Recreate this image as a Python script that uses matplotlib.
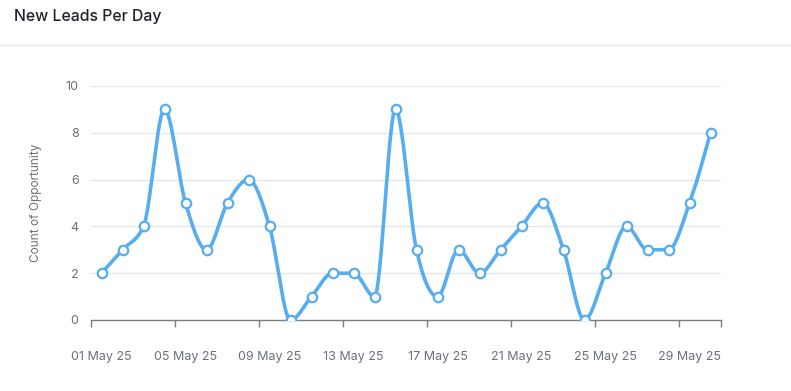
import numpy as np
import matplotlib
matplotlib.use("Agg")
import matplotlib.pyplot as plt
from matplotlib.lines import Line2D

dates = ["01 May 25", "02 May 25", "03 May 25", "04 May 25", "05 May 25", "06 May 25",
         "07 May 25", "08 May 25", "09 May 25", "10 May 25", "11 May 25", "12 May 25",
         "13 May 25", "14 May 25", "15 May 25", "16 May 25", "17 May 25", "18 May 25",
         "19 May 25", "20 May 25", "21 May 25", "22 May 25", "23 May 25", "24 May 25",
         "25 May 25", "26 May 25", "27 May 25", "28 May 25", "29 May 25", "30 May 25"]
counts = [2, 3, 4, 9, 5, 3, 5, 6, 4, 0, 1, 2, 2, 1, 9, 3, 1, 3, 2, 3, 4, 5, 3, 0, 2, 4, 3, 3, 5, 8]
y_ticks = [0, 2, 4, 6, 8, 10]

plt.rcParams['font.family'] = ['Inter', 'DejaVu Sans']

def monotone_curve(x, y, n=30):
    x = np.asarray(x, float); y = np.asarray(y, float)
    h = np.diff(x); s = np.diff(y) / h
    m = np.zeros_like(y)
    for i in range(1, len(y) - 1):
        if s[i-1] * s[i] <= 0:
            m[i] = 0
        else:
            p = (s[i-1] * h[i] + s[i] * h[i-1]) / (h[i-1] + h[i])
            m[i] = (np.sign(s[i-1]) + np.sign(s[i])) * min(abs(s[i-1]), abs(s[i]), 0.5 * abs(p))
    m[0] = (3 * s[0] - m[1]) / 2 if len(y) > 2 else s[0]
    m[-1] = (3 * s[-1] - m[-2]) / 2 if len(y) > 2 else s[-1]
    xs, ys = [], []
    for i in range(len(x) - 1):
        t = np.linspace(0, 1, n)
        dx = h[i]
        h00 = 2*t**3 - 3*t**2 + 1; h10 = t**3 - 2*t**2 + t
        h01 = -2*t**3 + 3*t**2; h11 = t**3 - t**2
        xs.append(x[i] + t * dx)
        ys.append(h00*y[i] + h10*dx*m[i] + h01*y[i+1] + h11*dx*m[i+1])
    return np.concatenate(xs), np.concatenate(ys)

fig = plt.figure(figsize=(7.91, 3.91), dpi=100)
fig.text(14/791, 1 - 17/391, "New Leads Per Day", fontsize=11.4, color="#1f2328",
         ha="left", va="center", fontweight="medium")
fig.add_artist(Line2D([0, 1], [1 - 45/391, 1 - 45/391], color="#e6e8eb", lw=1,
                      transform=fig.transFigure))

ax = fig.add_axes([91/791, 1 - 320/391, 630/791, 234/391])
x = np.arange(len(counts))
cx, cy = monotone_curve(x, counts)
ax.plot(cx, cy, color="#57adf0", lw=2.6, solid_capstyle="round", zorder=3)
ax.plot(x, counts, linestyle="none", marker="o", markersize=6.8, markerfacecolor="white",
        markeredgecolor="#57adf0", markeredgewidth=1.6, zorder=4)

ax.set_xlim(-0.5, len(counts) - 0.5)
ax.set_ylim(0, 10)
ax.set_yticks(y_ticks)
ax.set_yticklabels([str(v) for v in y_ticks])
for v in y_ticks[1:]:
    ax.axhline(v, color="#e3e6ea", lw=0.9, zorder=1)

label_idx = list(range(0, len(counts), 4))
ax.set_xticks(label_idx)
ax.set_xticklabels([dates[i] for i in label_idx])
ax.set_xticks([i - 0.5 for i in label_idx] + [len(counts) - 0.5], minor=True)
ax.tick_params(axis="x", which="major", length=0, pad=22, labelsize=9, labelcolor="#6b7079")
ax.tick_params(axis="x", which="minor", length=5, width=1, color="#7a7d82")
ax.tick_params(axis="y", length=0, pad=9, labelsize=9, labelcolor="#6b7079")

for side in ["top", "right", "left"]:
    ax.spines[side].set_visible(False)
ax.spines["bottom"].set_color("#7a7d82")
ax.spines["bottom"].set_linewidth(1)
ax.set_ylabel("Count of Opportunity", fontsize=8.5, color="#6b7079", labelpad=17)

fig.savefig("out.png", dpi=100, facecolor="white")
